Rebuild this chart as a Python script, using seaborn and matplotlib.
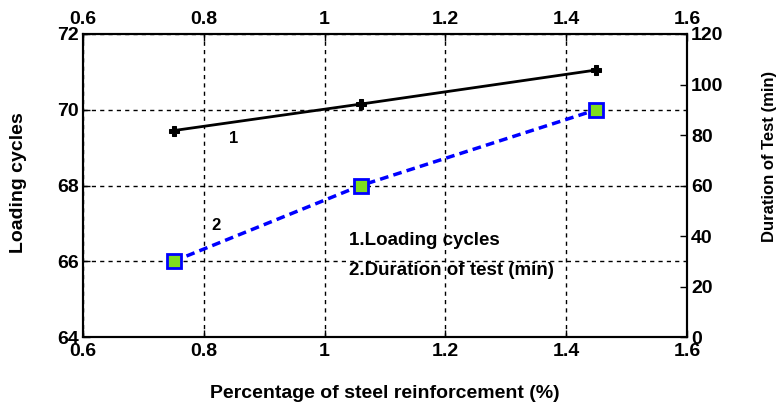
import matplotlib
matplotlib.use("Agg")
import matplotlib.pyplot as plt
import seaborn as sns
import pandas as pd

# Steel reinforcement ratio (%)
steel_pct = [0.75, 1.06, 1.45]
# Series 1: number of loading cycles (left axis)
loading_cycles = [69.45, 70.15, 71.05]
# Series 2: duration of test in minutes (right axis)
duration_min = [30, 60, 90]

x_ticks = [0.6, 0.8, 1.0, 1.2, 1.4, 1.6]
x_ticklabels = ["0.6", "0.8", "1", "1.2", "1.4", "1.6"]
left_ticks = [64, 66, 68, 70, 72]
right_ticks = [0, 20, 40, 60, 80, 100, 120]

sns.set_theme(style="white")
plt.rcParams["font.family"] = ["Liberation Sans", "DejaVu Sans"]
plt.rcParams["font.weight"] = "bold"
plt.rcParams["text.color"] = "black"
plt.rcParams["axes.labelcolor"] = "black"

df = pd.DataFrame({"pct": steel_pct, "cycles": loading_cycles, "duration": duration_min})

fig = plt.figure(figsize=(7.77, 4.05), dpi=100)
ax = fig.add_axes([83 / 777, 1 - 337 / 405, 604 / 777, 303 / 405])

sns.lineplot(data=df, x="pct", y="cycles", ax=ax, color="black", linewidth=2,
             marker="P", markersize=6.5, markeredgecolor="black", markerfacecolor="black")
ax.set_xlim(0.6, 1.6)
ax.set_ylim(64, 72)
ax.set_xticks(x_ticks)
ax.set_xticklabels(x_ticklabels)
ax.set_yticks(left_ticks)
ax.grid(True, color="black", linestyle=(0, (3, 3)), linewidth=1)
ax.set_axisbelow(True)
ax.tick_params(axis="both", direction="in", length=5, width=1, labelsize=14, colors="black",
               top=True, labeltop=True, bottom=True, left=True, right=False, pad=3)
ax.tick_params(axis="x", which="both", pad=4)
for lbl in ax.get_xticklabels() + ax.get_yticklabels():
    lbl.set_fontweight("bold")
ax.set_xlabel("Percentage of steel reinforcement (%)", fontsize=14, fontweight="bold")
ax.xaxis.set_label_coords(0.5, -0.158)
ax.set_ylabel("Loading cycles", fontsize=14, fontweight="bold")
ax.yaxis.set_label_coords(-0.093, 0.51)
for sp in ax.spines.values():
    sp.set_color("black")
    sp.set_linewidth(1.5)

ax2 = ax.twinx()
sns.lineplot(data=df, x="pct", y="duration", ax=ax2, color="#0000ff", linewidth=2.5,
             linestyle=(0, (2.5, 1.5)), marker="s", markersize=10,
             markerfacecolor="#7fdc1e", markeredgecolor="#0000ff", markeredgewidth=2)
ax2.set_ylim(0, 120)
ax2.set_yticks(right_ticks)
ax2.tick_params(axis="y", direction="in", length=5, width=1, labelsize=14, colors="black", pad=3)
for lbl in ax2.get_yticklabels():
    lbl.set_fontweight("bold")
ax2.set_ylabel("Duration of Test (min)", fontsize=12, fontweight="bold")
ax2.yaxis.set_label_coords(1.125, 0.595)
ax2.grid(False)
for sp in ax2.spines.values():
    sp.set_color("black")
    sp.set_linewidth(1.5)

ax.text(0.85, 69.25, "1", fontsize=12, fontweight="bold", ha="center", va="center")
ax.text(0.82, 66.95, "2", fontsize=12, fontweight="bold", ha="center", va="center")
ax.text(1.04, 66.55, "1.Loading cycles", fontsize=13.5, fontweight="bold", ha="left", va="center")
ax.text(1.04, 65.75, "2.Duration of test (min)", fontsize=13.5, fontweight="bold", ha="left", va="center")

fig.savefig("out.png", dpi=100)
